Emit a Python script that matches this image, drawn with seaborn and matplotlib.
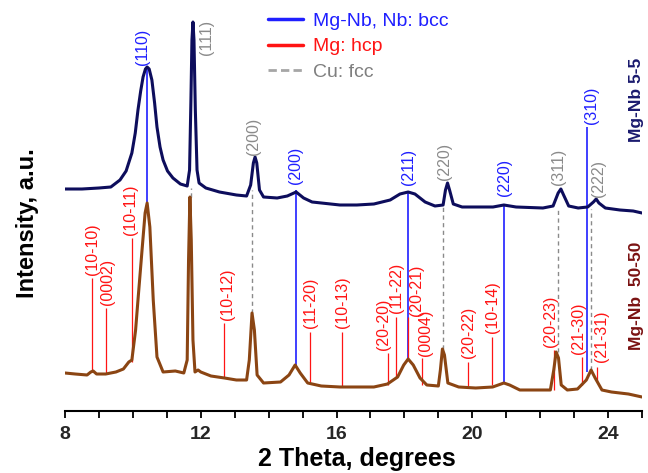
import numpy as np
import pandas as pd
import matplotlib
matplotlib.use("Agg")
import matplotlib.pyplot as plt
from matplotlib.lines import Line2D
from matplotlib.ticker import MultipleLocator
import seaborn as sns

# ---------------- data ----------------
theta_55 = [8.0, 8.5, 9.0, 9.35, 9.62, 9.8, 9.97, 10.07, 10.15, 10.23, 10.3, 10.37, 10.42,
            10.48, 10.56, 10.64, 10.71, 10.8, 10.89, 11.02, 11.18, 11.4, 11.6, 11.67, 11.71,
            11.74, 11.77, 11.8, 11.84, 11.89, 11.95, 12.15, 12.55, 13.05, 13.35, 13.47, 13.55,
            13.6, 13.65, 13.73, 13.85, 14.25, 14.55, 14.81, 15.03, 15.28, 16.1, 16.6, 17.1,
            17.58, 17.87, 18.11, 18.31, 18.61, 18.9, 19.14, 19.21, 19.27, 19.33, 19.44, 19.7,
            20.11, 20.61, 20.93, 21.29, 22.08, 22.38, 22.53, 22.61, 22.69, 22.84, 23.12, 23.4,
            23.57, 23.65, 23.73, 23.92, 24.35, 24.74, 25.0]
int_55 = [222, 222, 223, 224, 231, 240, 258, 278, 301, 320, 334, 342, 344,
          342, 331, 308, 284, 264, 251, 240, 233, 227, 225, 241, 311,
          371, 389, 371, 301, 241, 228, 223, 219, 216, 215, 226, 248,
          254, 248, 221, 214, 213, 215, 219, 213, 209, 206, 206, 207,
          211, 217, 219, 217, 209, 205, 206, 221, 228, 221, 207, 204,
          204, 204, 206, 204, 203, 205, 218, 222, 216, 205, 203, 204,
          209, 212, 208, 203, 201, 200, 198]

theta_5050 = [8.0, 8.3, 8.65, 8.76, 8.83, 8.93, 9.2, 9.5, 9.72, 9.88, 9.97, 10.08, 10.15,
              10.27, 10.36, 10.42, 10.5, 10.6, 10.71, 10.89, 11.25, 11.5, 11.6, 11.64, 11.68,
              11.72, 11.77, 11.83, 11.92, 12.0, 12.3, 12.7, 13.05, 13.35, 13.43, 13.51, 13.58,
              13.66, 13.85, 14.35, 14.6, 14.78, 14.93, 15.15, 15.55, 16.1, 16.6, 17.1, 17.5,
              17.8, 17.98, 18.11, 18.26, 18.46, 18.66, 19.0, 19.06, 19.12, 19.18, 19.28, 19.6,
              20.1, 20.6, 20.93, 21.1, 21.4, 21.9, 22.3, 22.4, 22.47, 22.54, 22.62, 22.8,
              23.1, 23.36, 23.5, 23.62, 23.82, 24.1, 24.6, 25.0]
int_5050 = [38, 37, 36, 39, 40, 37, 37, 39, 42, 49, 51, 81, 111,
            161, 198, 208, 184, 111, 54, 39, 40, 38, 51, 151, 214,
            171, 71, 39, 41, 39, 35, 33, 31, 31, 51, 98, 81,
            36, 28, 29, 36, 46, 38, 28, 25, 24, 24, 24, 27,
            34, 46, 52, 46, 33, 26, 25, 41, 62, 56, 28, 24,
            23, 24, 28, 26, 21, 21, 21, 41, 59, 53, 26, 21,
            22, 31, 41, 33, 21, 19, 17, 14]

# Nb / Mg-Nb bcc reflections
bcc_labels = ["(110)", "(200)", "(211)", "(220)", "(310)"]
bcc_pos = [10.42, 14.8, 18.11, 20.93, 23.38]
bcc_low = [208, 46, 52, 28, 39]
bcc_high = [344, 221, 219, 206, 284]
bcc_text_x = [10.29, 14.78, 18.11, 20.96, 23.5]
bcc_text_y = [346, 227, 226, 215, 287]

# Cu fcc reflections
fcc_labels = ["(111)", "(200)", "(220)", "(311)", "(222)"]
fcc_pos = [11.71, 13.5, 19.14, 22.53, 23.5]
fcc_low = [214, 98, 62, 59, 41]
fcc_high = [223, 221, 204, 204, 202]
fcc_text_x = [12.18, 13.54, 19.17, 22.53, 23.73]
fcc_text_y = [356, 256, 231, 226, 214]

# Mg hcp reflections
hcp_labels = ["(10-10)", "(0002)", "(10-11)", "(10-12)", "(11-20)", "(10-13)", "(20-20)",
              "(11-22)", "(20-21)", "(0004)", "(20-22)", "(10-14)", "(20-23)", "(21-30)", "(21-31)"]
hcp_pos = [8.80, 9.21, 9.97, 12.68, 15.22, 16.16, 17.52, 17.75, 18.11, 18.52, 19.87, 20.58,
           22.41, 23.23, 23.67]
hcp_low = [39, 38, 49, 33, 28, 25, 26, 33, 52, 26, 25, 26, 21, 26, 29]
hcp_high = [133, 103, 173, 88, 79, 79, 58, 94, 94, 53, 49, 74, 61, 54, 44]
hcp_text_x = [8.80, 9.24, 9.94, 12.8, 15.22, 16.19, 17.37, 17.78, 18.37, 18.61, 19.9, 20.61,
              22.29, 23.14, 23.82]
hcp_text_y = [136, 106, 176, 91, 83, 83, 61, 98, 95, 55, 53, 78, 64, 57, 49]

samples = ["Mg-Nb 5-5", "Mg-Nb 50-50"]

# ---------------- styling ----------------
sns.set_theme(style="white")
plt.rcParams["font.family"] = ["Liberation Sans", "DejaVu Sans"]

C_TOP = "#0d0d5c"
C_BOT = "#8b4513"
C_BLUE = "#1f1fff"
C_RED = "#ff1414"
C_GRAY = "#8a8a8a"

fig = plt.figure(figsize=(6.48, 4.73), dpi=100)
ax = fig.add_axes([65 / 648, 62 / 473, 577 / 648, 411 / 473])

df = pd.concat([
    pd.DataFrame({"theta": theta_55, "intensity": int_55, "sample": samples[0]}),
    pd.DataFrame({"theta": theta_5050, "intensity": int_5050, "sample": samples[1]}),
])

# reference lines (behind curves)
ax.vlines(bcc_pos, bcc_low, bcc_high, colors=C_BLUE, lw=1.2, zorder=1)
ax.vlines(fcc_pos, fcc_low, fcc_high, colors=C_GRAY, lw=1.0, linestyles=(0, (3, 2.5)), zorder=1)
ax.vlines(hcp_pos, hcp_low, hcp_high, colors=C_RED, lw=0.9, zorder=1)

sns.lineplot(data=df, x="theta", y="intensity", hue="sample",
             palette={samples[0]: C_TOP, samples[1]: C_BOT},
             estimator=None, sort=False, lw=2.2, legend=False, ax=ax, zorder=3)

lab_fs = 11.5
for t, x, y in zip(bcc_labels, bcc_text_x, bcc_text_y):
    ax.text(x, y, t, rotation=90, ha="center", va="bottom", color=C_BLUE, fontsize=lab_fs)
for t, x, y in zip(fcc_labels, fcc_text_x, fcc_text_y):
    ax.text(x, y, t, rotation=90, ha="center", va="bottom", color=C_GRAY, fontsize=lab_fs)
for t, x, y in zip(hcp_labels, hcp_text_x, hcp_text_y):
    ax.text(x, y, t, rotation=90, ha="center", va="bottom", color=C_RED, fontsize=lab_fs)

# sample names on the right
ax.text(24.84, 311, samples[0], rotation=90, ha="center", va="center", color="#1a1a6e",
        fontsize=12.5, fontweight="bold", clip_on=False)
ax.text(24.84, 115, samples[1].replace(" ", "  "), rotation=90, ha="center", va="center",
        color="#7a1212", fontsize=12.5, fontweight="bold", clip_on=False)

# legend
handles = [Line2D([], [], color=C_BLUE, lw=2.5),
           Line2D([], [], color=C_RED, lw=2.5),
           Line2D([], [], color="#a6a6a6", lw=2.0, ls=(0, (3, 1.5)))]
leg = ax.legend(handles, ["Mg-Nb, Nb: bcc", "Mg: hcp", "Cu: fcc"],
                loc="upper left", bbox_to_anchor=((268 - 65) / 577, (411 - 12) / 411),
                frameon=False, fontsize=14, handlelength=1.8, handletextpad=0.5,
                labelspacing=0.42, borderpad=0, borderaxespad=0)
for txt, c in zip(leg.get_texts(), [C_BLUE, C_RED, "#7f7f7f"]):
    txt.set_color(c)

# axes
ax.set_xlim(8, 25)
ax.set_ylim(0, 411)
ax.xaxis.set_major_locator(MultipleLocator(4))
ax.xaxis.set_minor_locator(MultipleLocator(1))
ax.tick_params(axis="x", which="both", direction="out", length=5, width=1.3,
               color="black", bottom=True, pad=6)
ax.tick_params(axis="x", which="major", labelsize=14)
for lbl in ax.get_xticklabels():
    lbl.set_fontweight("bold")
ax.set_yticks([])
for s in ["left", "top", "right"]:
    ax.spines[s].set_visible(False)
ax.spines["bottom"].set_color("black")
ax.spines["bottom"].set_linewidth(1.5)

ax.set_xlabel("2 Theta, degrees", fontsize=18, fontweight="bold", color="black")
ax.xaxis.set_label_coords(0.506, -0.088)
ax.set_ylabel("Intensity, a.u.", fontsize=17, fontweight="bold", color="black")
ax.yaxis.set_label_coords(-0.045, 0.457)

fig.savefig("out.png", dpi=100)
